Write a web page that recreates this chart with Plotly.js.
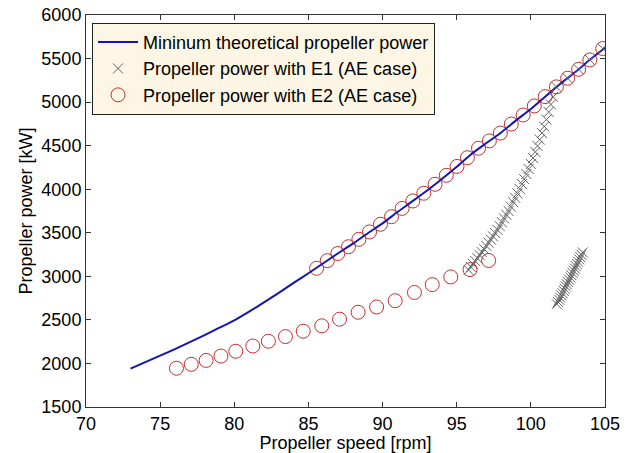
<!DOCTYPE html>
<html>
<head>
<meta charset="utf-8">
<script src="https://cdn.plot.ly/plotly-3.0.1.min.js"></script>
<style>html,body{margin:0;padding:0;background:#fff;}#chart{width:632px;height:453px;}</style>
</head>
<body>
<div id="chart"></div>
<script>
// Minimum theoretical propeller power (line)
const lineSpeed = [73, 74, 75, 76, 77, 78, 79, 80, 81, 82, 83, 84, 85, 86, 87, 88, 89, 90, 91, 92, 93, 94, 95, 96, 97, 98, 99, 100, 101, 102, 103, 104, 105];
const linePower = [1940, 2015, 2090, 2165, 2245, 2325, 2410, 2495, 2595, 2700, 2810, 2925, 3035, 3150, 3265, 3375, 3495, 3608, 3738, 3860, 3985, 4118, 4258, 4405, 4530, 4652, 4790, 4922, 5067, 5212, 5345, 5490, 5625];

// Propeller power with E1 (AE case) - crosses
const e1Speed = [95.8, 95.95, 96.1, 96.25, 96.4, 96.55, 96.7, 96.85, 97.0, 97.15, 97.3, 97.45, 97.6, 97.75, 97.9, 98.05, 98.2, 98.35, 98.5, 98.65, 98.8, 98.95, 99.1, 99.25, 99.4, 99.55, 99.7, 99.85, 100.0, 100.15, 100.3, 100.45, 100.6, 100.75, 100.9, 101.05, 101.2, 101.35, 101.5,
  101.72, 102.48, 103.22, 103.98, 104.85,
  101.75, 101.83, 101.91, 101.98, 102.06, 102.13, 102.21, 102.28, 102.36, 102.43, 102.51, 102.58, 102.66, 102.73, 102.81, 102.88, 102.96, 103.03, 103.11, 103.18, 103.26, 103.33, 103.41, 103.5];
const e1Power = [3073, 3107, 3141, 3175, 3209, 3243, 3277, 3312, 3349, 3386, 3422, 3459, 3496, 3534, 3577, 3620, 3664, 3707, 3750, 3800, 3851, 3901, 3952, 4003, 4059, 4116, 4174, 4232, 4290, 4359, 4428, 4497, 4570, 4645, 4720, 4799, 4886, 4973, 5060,
  5175, 5274, 5377, 5484, 5615,
  2680, 2705, 2731, 2756, 2782, 2807, 2833, 2858, 2884, 2909, 2935, 2961, 2987, 3013, 3039, 3065, 3091, 3117, 3143, 3169, 3195, 3221, 3247, 3275];

// Propeller power with E2 (AE case) - circles
const e2Speed = [76.1, 77.1, 78.1, 79.1, 80.1, 81.25, 82.3, 83.45, 84.65, 85.9, 87.1, 88.35, 89.6, 90.85, 92.15, 93.35, 94.6, 95.9, 97.15,
  85.55, 86.27, 86.98, 87.7, 88.4, 89.12, 89.86, 90.6, 91.32, 92.04, 92.78, 93.54, 94.3, 95.02, 95.72, 96.47, 97.2, 97.94, 98.68, 99.48, 100.23, 100.97, 101.72, 102.48, 103.22, 103.98, 104.85];
const e2Power = [1945, 1990, 2035, 2085, 2140, 2200, 2255, 2308, 2370, 2432, 2508, 2588, 2648, 2720, 2815, 2905, 2993, 3077, 3182,
  3092, 3180, 3262, 3340, 3425, 3510, 3598, 3685, 3780, 3865, 3954, 4057, 4160, 4262, 4362, 4470, 4555, 4645, 4748, 4852, 4956, 5063, 5175, 5274, 5377, 5484, 5615];

const seriesNames = ['Mininum theoretical propeller power', 'Propeller power with E1 (AE case)', 'Propeller power with E2 (AE case)'];
const xTicks = [70, 75, 80, 85, 90, 95, 100, 105];
const yTicks = [1500, 2000, 2500, 3000, 3500, 4000, 4500, 5000, 5500, 6000];

const FONT = 'Liberation Sans, Arial, Helvetica, sans-serif';

const traces = [
  {
    x: e2Speed, y: e2Power, type: 'scatter', mode: 'markers', name: seriesNames[2], legendrank: 3,
    marker: {symbol: 'circle-open', size: 14, color: 'rgb(200,45,45)', line: {width: 1, color: 'rgb(200,45,45)'}}
  },
  {
    x: lineSpeed, y: linePower, type: 'scatter', mode: 'lines', name: seriesNames[0], legendrank: 1,
    line: {color: 'rgb(20,20,180)', width: 2, shape: 'spline', smoothing: 0.6}
  },
  {
    x: e1Speed, y: e1Power, type: 'scatter', mode: 'markers', name: seriesNames[1], legendrank: 2,
    marker: {symbol: 'x-thin-open', size: 10, color: 'rgb(100,100,100)', line: {width: 1, color: 'rgb(100,100,100)'}}
  }
];

const axisCommon = {
  showgrid: false, zeroline: false, showline: true, linecolor: '#333', linewidth: 1,
  mirror: 'ticks', ticks: 'inside', ticklen: 5, tickcolor: '#333', tickwidth: 1,
  tickfont: {family: FONT, size: 18, color: '#000'}
};

const layout = {
  width: 632, height: 453,
  margin: {l: 86, r: 27, t: 15, b: 46, pad: 0},
  paper_bgcolor: '#fff', plot_bgcolor: '#fff',
  font: {family: FONT, size: 18, color: '#000'},
  xaxis: Object.assign({}, axisCommon, {
    range: [70, 105], tickmode: 'array', tickvals: xTicks, ticktext: xTicks.map(String),
    title: {text: 'Propeller speed [rpm]', font: {family: FONT, size: 18, color: '#000'}, standoff: 5}
  }),
  yaxis: Object.assign({}, axisCommon, {
    range: [1500, 6000], tickmode: 'array', tickvals: yTicks, ticktext: yTicks.map(String),
    title: {text: 'Propeller power [kW]', font: {family: FONT, size: 18, color: '#000'}, standoff: 4}
  }),
  showlegend: true,
  legend: {
    x: 0.0116, y: 0.98, xanchor: 'left', yanchor: 'top',
    bgcolor: 'rgb(253,246,228)', bordercolor: '#222', borderwidth: 1,
    font: {family: FONT, size: 18, color: '#000'},
    itemwidth: 40, tracegroupgap: 0
  }
};

Plotly.newPlot('chart', traces, layout, {displayModeBar: false, staticPlot: true});
</script>
</body>
</html>
